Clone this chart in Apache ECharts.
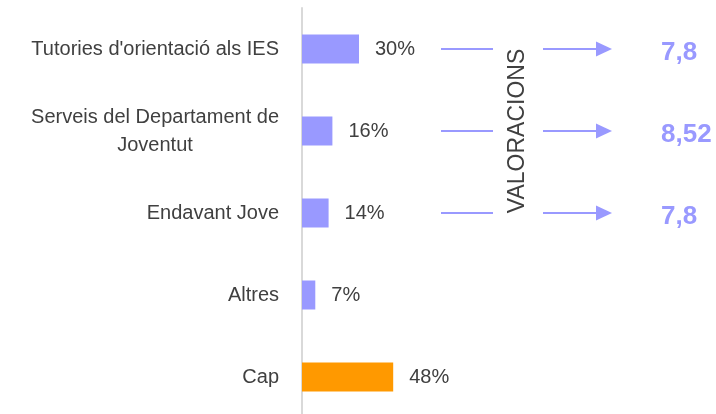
<!DOCTYPE html>
<html>
<head>
<meta charset="utf-8">
<style>
  html, body { margin: 0; padding: 0; background: #ffffff; }
  #chart { width: 716px; height: 414px; }
</style>
<script src="https://cdn.jsdelivr.net/npm/echarts@6/dist/echarts.min.js"></script>
</head>
<body>
<div id="chart"></div>
<script>
// Programmes / services used (share of respondents, %)
const categories = [
  "Tutories d'orientació als IES",
  'Serveis del Departament de\nJoventut',
  'Endavant Jove',
  'Altres',
  'Cap'
];
const shares = [30, 16, 14, 7, 48];

// Ratings given to the first three services
const ratedCategories = [
  "Tutories d'orientació als IES",
  'Serveis del Departament de\nJoventut',
  'Endavant Jove'
];
const ratings = ['7,8', '8,52', '7,8'];
const ratingsTitle = 'VALORACIONS';

const FONT = "'Liberation Sans', Arial, sans-serif";
const TEXT = '#404040';
const BLUE = '#9999ff';
const ORANGE = '#ff9900';

const chart = echarts.init(document.getElementById('chart'), null, { renderer: 'canvas' });

// Arrows, rating values and the vertical caption, placed on each category row
function renderRating(params, api) {
  const idx = api.value(1);
  const y = api.coord([0, idx])[1];
  const children = [
    { type: 'line', shape: { x1: 441, y1: y, x2: 493, y2: y },
      style: { stroke: BLUE, lineWidth: 2 } },
    { type: 'line', shape: { x1: 543, y1: y, x2: 598, y2: y },
      style: { stroke: BLUE, lineWidth: 2 } },
    { type: 'polygon', shape: { points: [[596, y - 7.5], [612, y], [596, y + 7.5]] },
      style: { fill: BLUE } },
    { type: 'text', x: 661, y: y + 4,
      style: { text: ratings[params.dataIndex], fill: BLUE, font: 'bold 26px ' + FONT,
               align: 'left', verticalAlign: 'middle' } }
  ];
  if (params.dataIndex === 1) {
    children.push({
      type: 'text', x: 518, y: y, rotation: Math.PI / 2,
      style: { text: ratingsTitle, fill: TEXT, font: '23px ' + FONT,
               align: 'center', verticalAlign: 'middle' }
    });
  }
  return { type: 'group', children: children };
}

chart.setOption({
  animation: false,
  backgroundColor: '#ffffff',
  grid: { left: 302, top: 8, width: 190, height: 410, containLabel: false, outerBoundsMode: 'none' },
  xAxis: { type: 'value', min: 0, max: 100, show: false },
  yAxis: {
    type: 'category',
    data: categories,
    inverse: true,
    axisLine: { show: true, lineStyle: { color: '#d9d9d9', width: 2 } },
    axisTick: { show: false },
    splitLine: { show: false },
    axisLabel: {
      margin: 23,
      formatter: function (v) {
        return v.split('\n').map(function (l) { return '{c|' + l + '}'; }).join('\n');
      },
      rich: {
        c: { align: 'center', fontSize: 20, fontFamily: FONT, color: TEXT, lineHeight: 28 }
      }
    }
  },
  series: [
    {
      type: 'bar',
      data: shares,
      barWidth: 29,
      itemStyle: {
        color: function (p) { return p.name === 'Cap' ? ORANGE : BLUE; }
      },
      label: {
        show: true,
        position: 'right',
        distance: 16,
        formatter: '{c}%',
        color: TEXT,
        fontSize: 20,
        fontFamily: FONT
      }
    },
    {
      type: 'custom',
      renderItem: renderRating,
      clip: false,
      encode: { x: 0, y: 1 },
      data: ratedCategories.map(function (c) { return [0, c]; }),
      silent: true,
      z: 3
    }
  ]
});
</script>
</body>
</html>
